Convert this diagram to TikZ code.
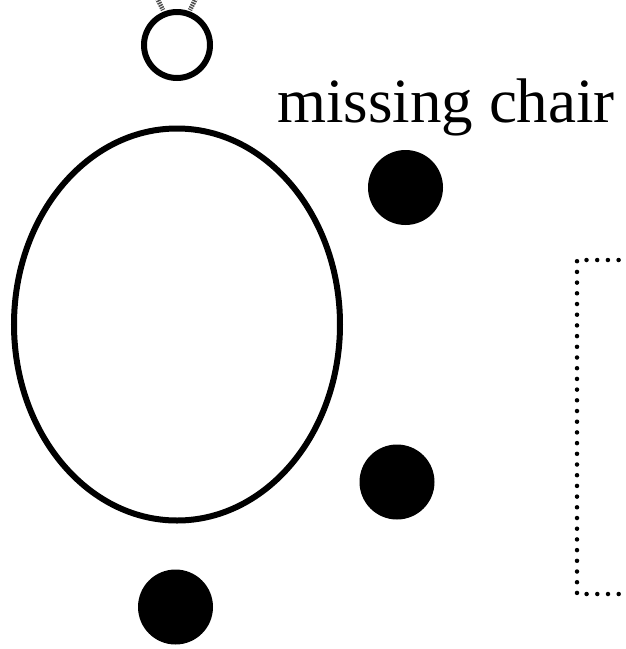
\documentclass[tikz,border=0pt]{standalone}
\usepackage{fontspec}
\setmainfont{Liberation Serif}
\begin{document}
\begin{tikzpicture}[x=1pt,y=-1pt,
  ring/.style={draw=black,line width=6pt,fill=none},
  seat/.style={circle,fill=black,inner sep=0pt,minimum size=75pt},
  stub/.style={draw=black!70,line width=4.5pt,dash pattern=on 1.5pt off 1pt},
  zone/.style={draw=black,line width=4.5pt,dash pattern=on 0pt off 10.7pt,line cap=round}]
\useasboundingbox (0,0) rectangle (625,649);
\node[draw=black,line width=6pt,circle,minimum size=66pt,inner sep=0pt] (head) at (177,45) {};
\draw[ring] (177,324.5) ellipse [x radius=163, y radius=196];
\node[seat] (s1) at (405.5,187.5) {};
\node[seat] (s2) at (397,482) {};
\node[seat] (s3) at (175.5,607) {};
\node[font=\fontsize{63}{70}\selectfont,inner sep=0pt,anchor=base west] (lbl) at (277,122) {missing chair};
\coordinate (z1) at (640,260);
\coordinate (z2) at (577,260);
\coordinate (z3) at (577,594);
\coordinate (z4) at (640,594);
\draw[zone] (z1) -- (z2) -- (z3) -- (z4);
\coordinate (a1) at (157,-2);
\coordinate (a2) at (163,10);
\coordinate (b1) at (196,-2);
\coordinate (b2) at (190,10);
\draw[stub] (a1) -- (a2);
\draw[stub] (b1) -- (b2);
\end{tikzpicture}
\end{document}
